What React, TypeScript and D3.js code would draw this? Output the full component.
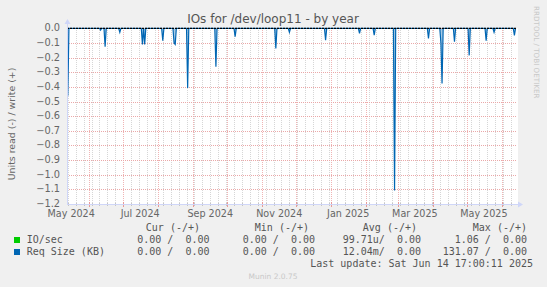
import React from "react";
import * as d3 from "d3";

// ---- data ----
const spikeDates = [
  "2024-05-13", "2024-06-11", "2024-06-15", "2024-06-28", "2024-07-18", "2024-07-20",
  "2024-08-05", "2024-08-15", "2024-08-16", "2024-08-27", "2024-09-21", "2024-10-08",
  "2024-11-13", "2024-11-25", "2024-12-27", "2025-01-26", "2025-02-08", "2025-02-26",
  "2025-03-28", "2025-04-08", "2025-04-09", "2025-04-20", "2025-05-03", "2025-05-18",
  "2025-05-25", "2025-06-12",
];
const spikeValues = [
  -0.46, -0.012, -0.126, -0.027, -0.11, -0.11,
  -0.085, -0.1, -0.11, -0.407, -0.263, -0.057,
  -0.137, -0.027, -0.082, -0.034, -0.046, -1.107,
  -0.07, -0.1, -0.377, -0.092, -0.185, -0.085,
  -0.027, -0.048,
];
const yTicks = [0, -0.1, -0.2, -0.3, -0.4, -0.5, -0.6, -0.7, -0.8, -0.9, -1.0, -1.1, -1.2];
const xLabelMonths = ["2024-05", "2024-07", "2024-09", "2024-11", "2025-01", "2025-03", "2025-05"];
const xLabelTexts = ["May 2024", "Jul 2024", "Sep 2024", "Nov 2024", "Jan 2025", "Mar 2025", "May 2025"];
const legendNames = ["IO/sec", "Req Size (KB)"];
const legendColors = ["#00cc00", "#0066b3"];
const legendCur = ["0.00 /  0.00", "0.00 /  0.00"];
const legendMin = ["0.00 /  0.00", "0.00 /  0.00"];
const legendAvg = ["99.71u/  0.00", "12.04m/  0.00"];
const legendMax = ["1.06 /  0.00", "131.07 /  0.00"];
const title = "IOs for /dev/loop11 - by year";
const yLabel = "Units read (-) / write (+)";
const lastUpdate = "Last update: Sat Jun 14 17:00:11 2025";

const W = 547, H = 287;
const L = 67, R = 517, T = 28.3, B = 204;
const tStart = new Date(2024, 4, 12, 7);
const tEnd = new Date(2025, 5, 14, 7);

export default function App() {
  const parseDay = d3.timeParse("%Y-%m-%d");
  const parseMonth = d3.timeParse("%Y-%m");
  const x = d3.scaleTime().domain([tStart, tEnd]).range([L, R]);
  const y = d3.scaleLinear().domain([-1.2, 0]).range([B, T]);

  // build series: spikes with zero-valued neighbouring days
  const m = new Map<number, number>();
  spikeDates.forEach((s, i) => {
    const d = parseDay(s)!;
    m.set(+d, spikeValues[i]);
  });
  spikeDates.forEach((s) => {
    const d = parseDay(s)!;
    const prev = d3.timeDay.offset(d, -1);
    const next = d3.timeDay.offset(d, 1);
    if (!m.has(+prev) && prev >= tStart) m.set(+prev, 0);
    if (!m.has(+next)) m.set(+next, 0);
  });
  const series = Array.from(m.entries())
    .sort((a, b) => a[0] - b[0])
    .map(([t, v]) => ({ t: new Date(t), v }));

  const line = d3.line<{ t: Date; v: number }>().x((d) => x(d.t)).y((d) => y(d.v));
  const area = d3
    .area<{ t: Date; v: number }>()
    .x((d) => x(d.t))
    .y0(y(0))
    .y1((d) => y(d.v));

  const majors = d3.timeMonth.range(tStart, tEnd);
  const minors = d3.timeMonday.range(tStart, tEnd);

  const font = "'DejaVu Sans', sans-serif";
  const mono = "'DejaVu Sans Mono', monospace";
  const fc = "#666";

  return (
    <svg width={W} height={H} style={{ display: "block", position: "absolute", left: 0, top: 0 }}>
      <rect x={0} y={0} width={W} height={H} fill="#f0f0f0" />
      <rect x={L} y={T} width={R - L + 1} height={B - T} fill="#ffffff" />
      <defs>
        <clipPath id="plot">
          <rect x={L} y={T - 1} width={R - L} height={B - T + 2} />
        </clipPath>
      </defs>
      {/* minor grid */}
      {minors.map((d, i) => (
        <line key={"mn" + i} x1={Math.round(x(d)) + 0.5} x2={Math.round(x(d)) + 0.5} y1={T} y2={B}
          stroke="#d6d6d6" strokeDasharray="1,1" shapeRendering="crispEdges" />
      ))}
      {/* major grid */}
      {majors.map((d, i) => (
        <line key={"mj" + i} x1={Math.round(x(d)) + 0.5} x2={Math.round(x(d)) + 0.5} y1={T} y2={B}
          stroke="#f0b4b4" strokeDasharray="1,1" shapeRendering="crispEdges" />
      ))}
      {yTicks.map((v, i) => (
        <line key={"hy" + i} x1={L} x2={R} y1={Math.round(y(v)) + 0.5} y2={Math.round(y(v)) + 0.5}
          stroke="#eaa8a8" strokeDasharray="1,1" shapeRendering="crispEdges" />
      ))}
      {/* axis ticks */}
      {minors.map((d, i) => (
        <line key={"tmn" + i} x1={Math.round(x(d)) + 0.5} x2={Math.round(x(d)) + 0.5} y1={B - 1} y2={B + 2}
          stroke="#c4c4c4" shapeRendering="crispEdges" />
      ))}
      {majors.map((d, i) => (
        <line key={"tmj" + i} x1={Math.round(x(d)) + 0.5} x2={Math.round(x(d)) + 0.5} y1={B - 2} y2={B + 3}
          stroke="#e89898" shapeRendering="crispEdges" />
      ))}
      {/* data */}
      <g clipPath="url(#plot)">
        <path d={area(series)!} fill="#80b3da" opacity={0.7} />
        <path d={line(series)!} fill="none" stroke="#0066b3" strokeWidth={1.2} />
      </g>
      {/* zero line */}
      <line x1={L} x2={R} y1={y(0)} y2={y(0)} stroke="#000" strokeDasharray="2,1" strokeWidth={1.2} />
      {/* axes */}
      <line x1={L + 0.5} x2={L + 0.5} y1={B} y2={21} stroke="#cfd6f8" shapeRendering="crispEdges" />
      <path d={`M${L - 2.5},${24} L${L + 0.5},${19} L${L + 3.5},${24} Z`} fill="#cfd6f8" />
      <line x1={L} x2={520} y1={B + 0.5} y2={B + 0.5} stroke="#cfd6f8" shapeRendering="crispEdges" />
      <path d={`M${518},${B - 2.5} L${523},${B + 0.5} L${518},${B + 3.5} Z`} fill="#cfd6f8" />
      {/* y labels */}
      {yTicks.map((v, i) => (
        <text key={"yl" + i} x={60} y={y(v) - 0.5} dy="0.36em" textAnchor="end" fontFamily={font} fontSize={9.8} fill={fc}>
          {d3.format(".1f")(v)}
        </text>
      ))}
      {/* x labels */}
      {xLabelMonths.map((s, i) => (
        <text key={"xl" + i} x={x(d3.timeDay.offset(parseMonth(s)!, 15))} y={216.5} textAnchor="middle"
          fontFamily={font} fontSize={9.6} fill={fc}>
          {xLabelTexts[i]}
        </text>
      ))}
      {/* title */}
      <text x={273} y={23} textAnchor="middle" fontFamily={font} fontSize={12} fill="#555">{title}</text>
      {/* y axis title */}
      <text transform={`translate(15,${124}) rotate(-90)`} textAnchor="middle" fontFamily={font} fontSize={9.4} fill={fc}>
        {yLabel}
      </text>
      {/* rrdtool watermark */}
      <text transform={`translate(534,6) rotate(90)`} fontFamily={font} fontSize={7.2} fill="#c8c8c8">
        RRDTOOL / TOBI OETIKER
      </text>
      {/* legend */}
      <g fontFamily={mono} fontSize={10} fill="#555" style={{ whiteSpace: "pre" }}>
        <text x={200} y={231} textAnchor="end" xmlSpace="preserve">Cur (-/+)</text>
        <text x={309} y={231} textAnchor="end" xmlSpace="preserve">Min (-/+)</text>
        <text x={417} y={231} textAnchor="end" xmlSpace="preserve">Avg (-/+)</text>
        <text x={527} y={231} textAnchor="end" xmlSpace="preserve">Max (-/+)</text>
        {legendNames.map((n, i) => {
          const yy = 243 + i * 12;
          return (
            <g key={"lg" + i}>
              <rect x={14} y={yy - 6} width={6} height={6} fill={legendColors[i]} />
              <text x={26.7} y={yy} xmlSpace="preserve">{n}</text>
              <text x={209.5} y={yy} textAnchor="end" xmlSpace="preserve">{legendCur[i]}</text>
              <text x={315} y={yy} textAnchor="end" xmlSpace="preserve">{legendMin[i]}</text>
              <text x={421} y={yy} textAnchor="end" xmlSpace="preserve">{legendAvg[i]}</text>
              <text x={527} y={yy} textAnchor="end" xmlSpace="preserve">{legendMax[i]}</text>
            </g>
          );
        })}
        <text x={533} y={267} textAnchor="end" xmlSpace="preserve">{lastUpdate}</text>
      </g>
      <text x={273} y={279} textAnchor="middle" fontFamily={font} fontSize={7.5} fill="#c8c8c8">Munin 2.0.75</text>
    </svg>
  );
}
